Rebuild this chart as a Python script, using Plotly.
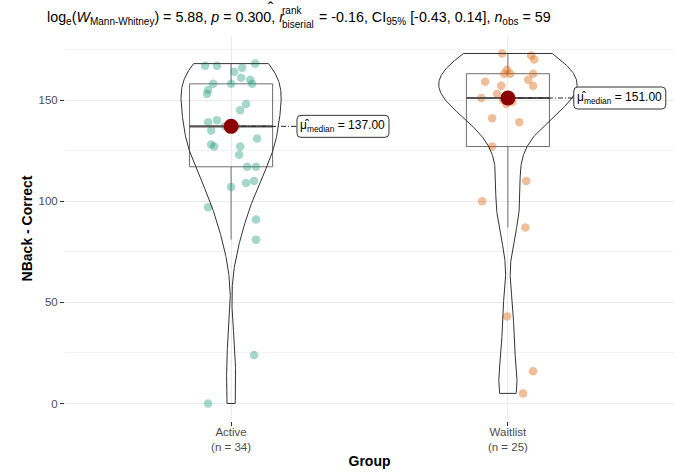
import numpy as np
import plotly.graph_objects as go

# ---- data -------------------------------------------------------------
groups = ["Active", "Waitlist"]
group_labels = ["Active<br>(n = 34)", "Waitlist<br>(n = 25)"]

active_values = [168, 167, 167, 166, 164, 161, 160, 158, 158, 158, 155, 153,
                 148, 145, 140, 139, 137, 137, 135, 131, 128, 127, 127, 123,
                 117, 117, 110, 109, 107, 97, 91, 81, 24, 0]
waitlist_values = [173, 172, 170, 165, 163, 163, 163, 160, 159, 157, 157, 153,
                   151, 150, 149, 148, 141, 139, 127, 110, 100, 87, 43, 16, 5]

# horizontal jitter of each point (category units)
active_jitter = [0.087, -0.094, -0.051, 0.040, 0.011, 0.036, 0.069, 0.076,
                 -0.065, 0.000, -0.083, -0.087, 0.054, 0.033, -0.051, -0.083,
                 -0.022, 0.018, -0.072, 0.094, -0.072, -0.061, 0.033, 0.029,
                 0.090, 0.058, 0.083, 0.054, 0.000, -0.083, 0.090, 0.090,
                 0.083, -0.083]
waitlist_jitter = [-0.021, 0.084, 0.095, -0.003, -0.013, 0.091, 0.008, 0.073,
                   -0.082, -0.024, 0.091, -0.039, -0.096, -0.017, 0.016,
                   -0.006, -0.057, 0.041, -0.057, 0.066, -0.093, 0.063,
                   -0.003, 0.091, 0.055]

point_colors = ["rgba(27,158,119,0.40)", "rgba(217,95,2,0.40)"]

# ---- helpers ----------------------------------------------------------
def bw_nrd0(x):
    x = np.asarray(x, float)
    q1, q3 = np.percentile(x, [25, 75])
    lo = min(np.std(x, ddof=1), (q3 - q1) / 1.34)
    return 0.9 * lo * len(x) ** -0.2


def kde(x, grid):
    x = np.asarray(x, float)
    bw = bw_nrd0(x)
    z = (grid[:, None] - x[None, :]) / bw
    return np.exp(-0.5 * z ** 2).sum(axis=1) / (len(x) * bw * np.sqrt(2 * np.pi))


def box_stats(x):
    x = np.asarray(x, float)
    q1, med, q3 = np.percentile(x, [25, 50, 75])
    iqr = q3 - q1
    lo = x[x >= q1 - 1.5 * iqr].min()
    hi = x[x <= q3 + 1.5 * iqr].max()
    return q1, med, q3, lo, hi


all_values = [active_values, waitlist_values]
all_jitter = [active_jitter, waitlist_jitter]

grids = [np.linspace(min(v), max(v), 512) for v in all_values]
dens = [kde(v, g) for v, g in zip(all_values, grids)]
dmax = max(d.max() for d in dens)

fig = go.Figure()

FONT = "Liberation Sans, Arial, sans-serif"
label_dx = 0.238

for i, vals in enumerate(all_values):
    pos = i + 1
    # jittered raw points
    fig.add_trace(go.Scatter(
        x=[pos + j for j in all_jitter[i]], y=vals, mode="markers",
        marker=dict(size=8.5, color=point_colors[i], line=dict(width=0)),
        hoverinfo="skip", showlegend=False))

    # box and whiskers
    q1, med, q3, lo, hi = box_stats(vals)
    fig.add_trace(go.Box(
        x=[pos], q1=[q1], median=[med], q3=[q3], lowerfence=[lo],
        upperfence=[hi], width=0.3, whiskerwidth=0,
        line=dict(color="#6e6e6e", width=1), fillcolor="rgba(0,0,0,0)",
        boxpoints=False, hoverinfo="skip", showlegend=False))
    fig.add_trace(go.Scatter(
        x=[pos - 0.15, pos + 0.15], y=[med, med], mode="lines",
        line=dict(color="#555555", width=2.2), hoverinfo="skip",
        showlegend=False))

    # violin outline (area-scaled, trimmed)
    hw = 0.25 * dens[i] / dmax
    g = grids[i]
    vx = np.concatenate([pos - hw, (pos + hw)[::-1], [pos - hw[0]]])
    vy = np.concatenate([g, g[::-1], [g[0]]])
    fig.add_trace(go.Scatter(
        x=vx, y=vy, mode="lines", line=dict(color="#333333", width=1),
        hoverinfo="skip", showlegend=False))

    # connector to the label, then the median dot
    fig.add_trace(go.Scatter(
        x=[pos, pos + label_dx], y=[med, med], mode="lines",
        line=dict(color="#222222", width=1, dash="5px,2px,1px,2px"),
        hoverinfo="skip", showlegend=False))
    fig.add_trace(go.Scatter(
        x=[pos], y=[med], mode="markers",
        marker=dict(size=15, color="#8B0000"), hoverinfo="skip",
        showlegend=False))

    # rounded label box + text
    w, h, r = 92, 22, 4
    path = (f"M {r},{-h/2} L {w-r},{-h/2} Q {w},{-h/2} {w},{-h/2+r} "
            f"L {w},{h/2-r} Q {w},{h/2} {w-r},{h/2} L {r},{h/2} "
            f"Q 0,{h/2} 0,{h/2-r} L 0,{-h/2+r} Q 0,{-h/2} {r},{-h/2} Z")
    fig.add_shape(type="path", xref="x", yref="y", xsizemode="pixel",
                  ysizemode="pixel", xanchor=pos + label_dx, yanchor=med,
                  path=path, line=dict(color="#333333", width=1),
                  fillcolor="white", layer="above")
    fig.add_annotation(
        x=pos + label_dx, y=med, xref="x", yref="y", xanchor="center",
        yanchor="middle", xshift=w / 2, showarrow=False,
        text=f"\u03bc\u0302<sub>median</sub> = {med:.2f}",
        font=dict(family=FONT, size=12, color="black"))

# ---- title (stacked super/subscript built from pieces) ----------------
L, T = 65, 36
title_size = 14.3


def title_piece(text, px, py, size=title_size, anchor="left"):
    fig.add_annotation(
        text=text, xref="paper", yref="paper", x=0, y=1, xanchor=anchor,
        yanchor="middle", xshift=px - L, yshift=T - py, showarrow=False,
        font=dict(family=FONT, size=size, color="black"))


title_piece("log<sub>e</sub>(<i>W</i><sub>Mann-Whitney</sub>) = 5.88, "
            "<i>p</i> = 0.300, <i>r</i>", 45, 18)
title_piece("\u02c6", 271, 8, title_size * 1.1, anchor="center")
title_piece("rank", 280, 10, title_size * 0.7)
title_piece("biserial", 280, 24, title_size * 0.7)
title_piece("= -0.16, CI<sub>95%</sub> [-0.43, 0.14], "
            "<i>n</i><sub>obs</sub> = 59", 317, 18)

# ---- axes -------------------------------------------------------------
ymin = min(min(v) for v in all_values)
ymax = max(max(v) for v in all_values)
pad = 0.05 * (ymax - ymin)

fig.update_layout(
    width=681, height=473,
    margin=dict(l=L, r=7, t=T, b=52, pad=0, autoexpand=False),
    paper_bgcolor="white", plot_bgcolor="white",
    font=dict(family=FONT, color="#4d4d4d"),
    showlegend=False,
    xaxis=dict(
        range=[0.4, 2.6], tickvals=[1, 2], ticktext=group_labels,
        automargin=False, ticklabelstandoff=-4,
        showgrid=True, gridcolor="#ebebeb", gridwidth=1, zeroline=False,
        showline=False, ticks="outside", ticklen=4, tickcolor="#333333",
        tickfont=dict(size=11.5, color="#4d4d4d"),
        title=dict(text="<b>Group</b>", standoff=4,
                   font=dict(size=14, color="black"))),
    yaxis=dict(
        range=[ymin - pad, ymax + pad], tickvals=[0, 50, 100, 150],
        automargin=False,
        showgrid=True, gridcolor="#ebebeb", gridwidth=1, zeroline=False,
        showline=False, ticks="outside", ticklen=4, tickcolor="#333333",
        tickfont=dict(size=11.5, color="#4d4d4d"),
        minor=dict(tickvals=[25, 75, 125, 175], showgrid=True,
                   gridcolor="#f3f3f3", gridwidth=1, ticks=""),
        title=dict(text="<b>NBack - Correct</b>", standoff=2,
                   font=dict(size=14, color="black"))),
)

fig.write_html("out.html")
